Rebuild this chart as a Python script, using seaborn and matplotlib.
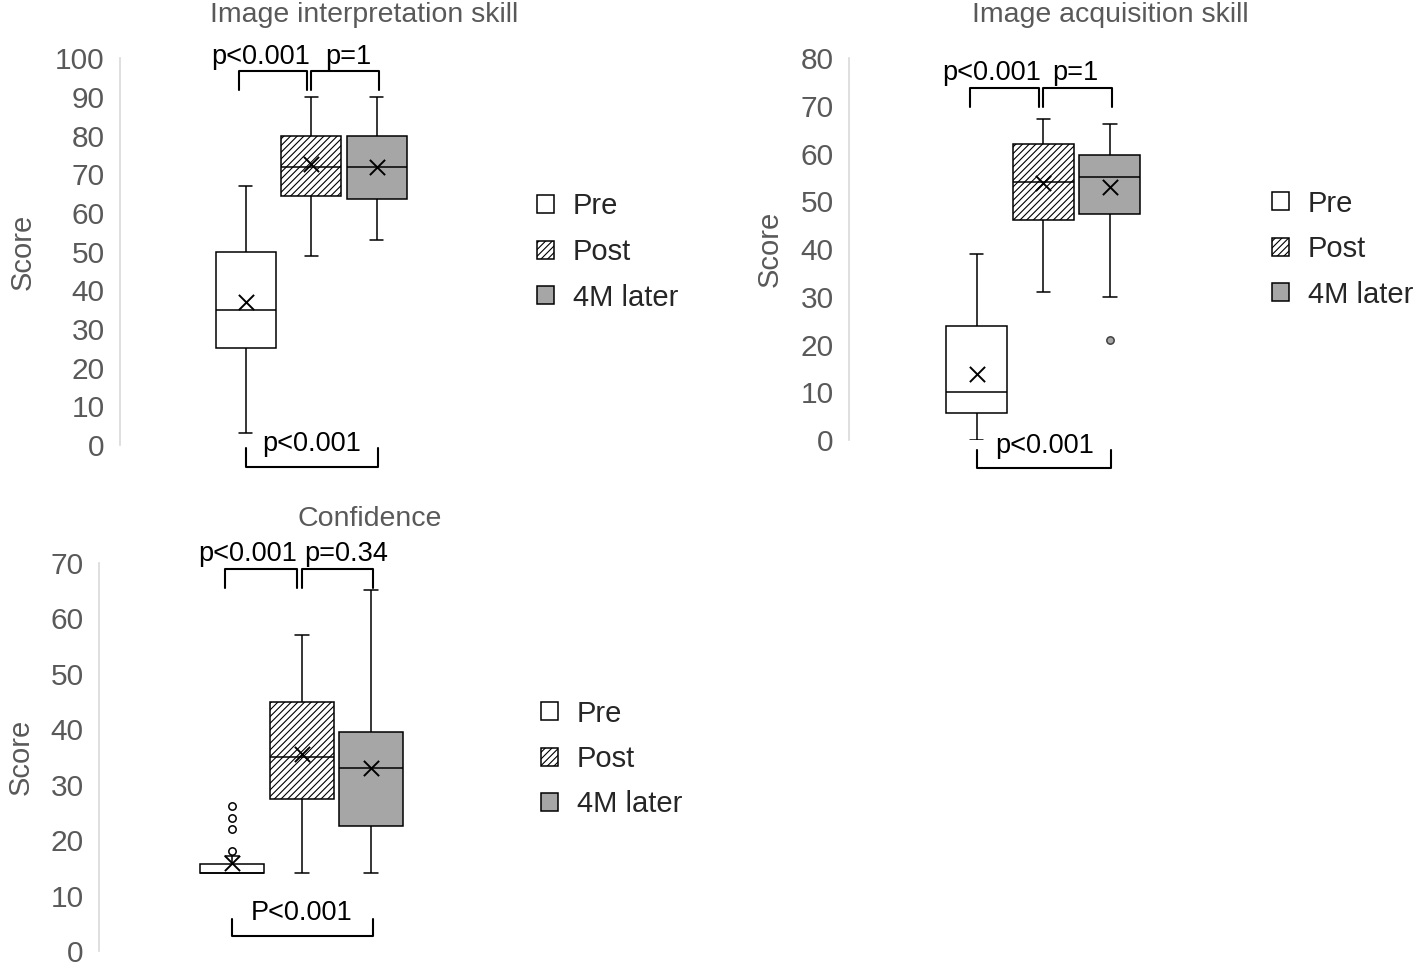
import matplotlib
matplotlib.use("Agg")
import numpy as np
import pandas as pd
import matplotlib.pyplot as plt
from matplotlib.patches import Patch
import seaborn as sns

groups = ["Pre", "Post", "4M later"]

# five-number summaries: low whisker, Q1, median, Q3, high whisker
interp_pre = [3, 25, 35, 50, 67]
interp_post = [49, 64.5, 72, 80, 90]
interp_4m = [53, 63.5, 72, 80, 90]
interp_means = [37, 72.7, 72]

acq_pre = [0, 5.7, 10, 23.8, 39]
acq_post = [31, 46.2, 54, 62, 67.2]
acq_4m = [30, 47.3, 55.2, 59.8, 66.2]
acq_means = [13.8, 53.8, 53]
acq_outliers_4m = [21]

conf_pre = [14, 14, 14, 15.7, 17.2]
conf_post = [14, 27.5, 35, 45, 57]
conf_4m = [14, 22.5, 33, 39.6, 65.2]
conf_means = [15.9, 35.6, 33]
conf_outliers_pre = [18, 22, 24, 26.2]

GRAY_TXT = "#595959"
fill_colors = {"Pre": "white", "Post": "white", "4M later": "#a6a6a6"}

sns.set_style("white")
plt.rcParams["font.family"] = ["Liberation Sans", "DejaVu Sans"]
plt.rcParams["hatch.linewidth"] = 0.8

W, H = 1416, 969
fig = plt.figure(figsize=(W / 100, H / 100), dpi=100)


def px_axes(left, right, y0, ytop):
    # left/right in pixels, y0 = pixel row of value 0, ytop = pixel row of top tick
    return fig.add_axes([left / W, 1 - y0 / H, (right - left) / W, (y0 - ytop) / H])


def long_frame(boxes):
    rows = []
    for name, vals in zip(groups, boxes):
        for v in vals:
            rows.append({"group": name, "score": v})
    return pd.DataFrame(rows)


def draw_panel(ax, boxes, means, outliers, ymax, step, pvals, brackets, label_x):
    df = long_frame(boxes)
    sns.boxplot(data=df, x="group", y="score", hue="group", order=groups,
                hue_order=groups, palette=fill_colors, saturation=1, width=0.92,
                whis=np.inf, linecolor="black", linewidth=1.1, capwidths=0.2,
                legend=False, ax=ax)
    for patch in ax.patches:
        idx = int(round(patch.get_path().vertices[:, 0].mean()))
        if groups[idx] == "Post":
            patch.set_hatch("/////")

    sns.scatterplot(x=groups, y=means, marker="x", s=120, color="black",
                    linewidth=1.4, zorder=5, legend=False, ax=ax)
    for name, vals, fc, ec in outliers:
        sns.scatterplot(x=[name] * len(vals), y=vals, marker="o", s=28,
                        facecolor=fc, edgecolor=ec, linewidth=1.1, zorder=5,
                        legend=False, ax=ax)

    ax.set_xlim(-1.92, 3.88)
    ax.set_ylim(0, ymax)
    ax.set_yticks(np.arange(0, ymax + 1, step))
    ax.set_xticks([])
    ax.set_xlabel("")
    ax.set_ylabel("Score", fontsize=21, color=GRAY_TXT)
    ax.yaxis.set_label_coords(label_x, 0.5)
    ax.tick_params(axis="y", length=0, pad=11, labelsize=21.5, labelcolor=GRAY_TXT)
    for side in ["top", "right", "bottom"]:
        ax.spines[side].set_visible(False)
    ax.spines["left"].set_color("#d9d9d9")
    ax.spines["left"].set_linewidth(1.2)

    # significance brackets
    top, tip, bot, btip = brackets
    for x0, x1 in [(-0.1, 0.93), (1.0, 2.03)]:
        ax.plot([x0, x0, x1, x1], [tip, top, top, tip], color="black", lw=1.5,
                clip_on=False)
    ax.plot([0, 0, 2.02, 2.02], [btip, bot, bot, btip], color="black", lw=1.5,
            clip_on=False)
    for (x, y, s) in pvals:
        ax.text(x, y, s, ha="center", va="center", fontsize=19.5, color="black",
                clip_on=False)


def add_legend(ax, x_px, y_px):
    handles = [Patch(facecolor="white", edgecolor="black", linewidth=1.1),
               Patch(facecolor="white", edgecolor="black", hatch="/////", linewidth=1.1),
               Patch(facecolor="#a6a6a6", edgecolor="black", linewidth=1.1)]
    ax.legend(handles, groups, loc="center left", bbox_to_anchor=(x_px / W, 1 - y_px / H),
              bbox_transform=fig.transFigure, frameon=False, fontsize=21,
              handlelength=0.58, handleheight=0.58, handletextpad=0.65,
              labelspacing=0.6, borderpad=0, borderaxespad=0)


# Image interpretation skill
ax1 = px_axes(120, 500, 445, 58.3)
draw_panel(ax1, [interp_pre, interp_post, interp_4m], interp_means, [],
           100, 10,
           [(0.23, 100.4, "p<0.001"), (1.57, 100.4, "p=1"), (1.0, 0.2, "p<0.001")],
           (96.7, 91.8, -5.6, -0.8), -0.22)
add_legend(ax1, 537, 252)
fig.text(364 / W, 1 - 15 / H, "Image interpretation skill", ha="center", va="center",
         fontsize=20.5, color=GRAY_TXT)

# Image acquisition skill
ax2 = px_axes(849, 1235, 440, 58.3)
draw_panel(ax2, [acq_pre, acq_post, acq_4m], acq_means,
           [("4M later", acq_outliers_4m, "#a6a6a6", "#404040")],
           80, 10,
           [(0.22, 76.9, "p<0.001"), (1.48, 76.9, "p=1"), (1.02, -1.3, "p<0.001")],
           (73.8, 69.7, -5.8, -2.2), -0.17)
add_legend(ax2, 1272, 249)
fig.text(1110 / W, 1 - 15 / H, "Image acquisition skill", ha="center", va="center",
         fontsize=20.5, color=GRAY_TXT)

# Confidence
ax3 = px_axes(99, 502, 951, 563)
draw_panel(ax3, [conf_pre, conf_post, conf_4m], conf_means,
           [("Pre", conf_outliers_pre, "white", "black")],
           70, 10,
           [(0.22, 71.6, "p<0.001"), (1.64, 71.6, "p=0.34"), (1.0, 6.9, "P<0.001")],
           (68.9, 65.5, 2.7, 5.8), -0.16)
add_legend(ax3, 541, 759)
fig.text(370 / W, 1 - 519 / H, "Confidence", ha="center", va="center",
         fontsize=20.5, color=GRAY_TXT)

fig.savefig("out.png", dpi=100)
